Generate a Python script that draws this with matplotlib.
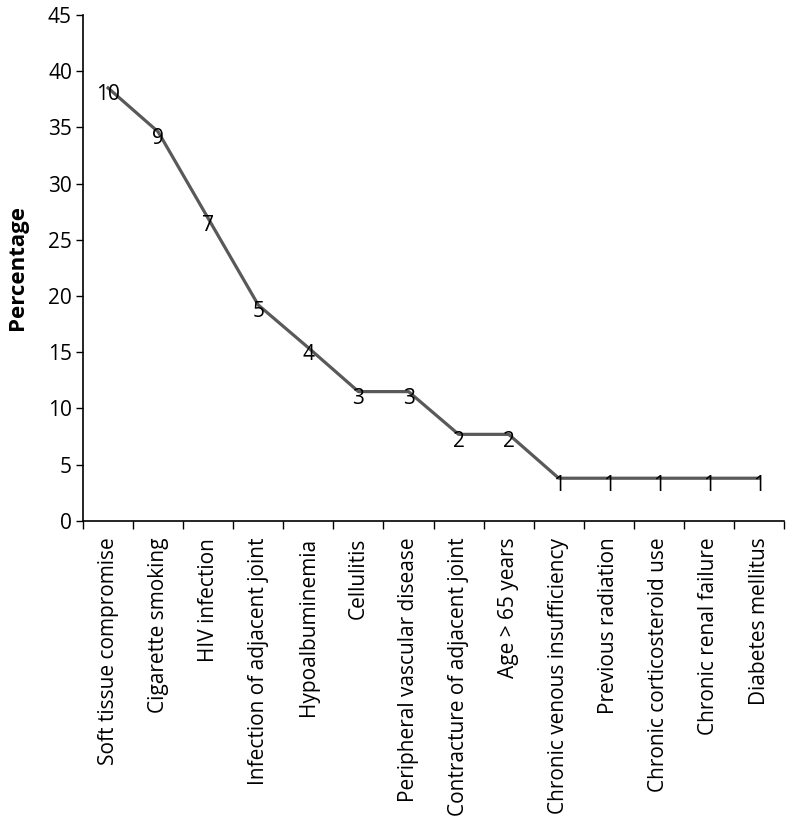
import matplotlib
matplotlib.use("Agg")
import matplotlib.pyplot as plt

plt.rcParams["font.family"] = ["Open Sans", "DejaVu Sans"]

categories = [
    "Soft tissue compromise",
    "Cigarette smoking",
    "HIV infection",
    "Infection of adjacent joint",
    "Hypoalbuminemia",
    "Cellulitis",
    "Peripheral vascular disease",
    "Contracture of adjacent joint",
    "Age > 65 years",
    "Chronic venous insufficiency",
    "Previous radiation",
    "Chronic corticosteroid use",
    "Chronic renal failure",
    "Diabetes mellitus",
]
counts = [10, 9, 7, 5, 4, 3, 3, 2, 2, 1, 1, 1, 1, 1]
percentages = [38.5, 34.6, 26.9, 19.2, 15.4, 11.5, 11.5, 7.7, 7.7, 3.8, 3.8, 3.8, 3.8, 3.8]

fig = plt.figure(figsize=(7.86, 8.23), dpi=100)
ax = fig.add_axes([0.1056, 0.367, 0.892, 0.615])

x = list(range(len(categories)))
ax.plot(x, percentages, color="#595959", linewidth=2.3, solid_joinstyle="round")

# count labels sit just under each point
for xi, yi, c in zip(x, percentages, counts):
    ax.annotate(str(c), (xi, yi), xytext=(0, -5), textcoords="offset points",
                ha="center", va="center", fontsize=15, color="black")

ax.set_xlim(-0.5, len(categories) - 0.5)
ax.set_ylim(0, 45)
ax.set_yticks(range(0, 46, 5))
ax.tick_params(axis="y", labelsize=15, length=5, width=1, direction="out", pad=3)

ax.set_xticks(x)
ax.set_xticklabels(categories, rotation=90, fontsize=15)
ax.set_xticks([i - 0.5 for i in range(len(categories) + 1)], minor=True)
ax.tick_params(axis="x", which="major", length=0, pad=12)
ax.tick_params(axis="x", which="minor", length=6, width=1, direction="out")

for side in ("top", "right"):
    ax.spines[side].set_visible(False)
for side in ("left", "bottom"):
    ax.spines[side].set_linewidth(1.2)
    ax.spines[side].set_color("black")

ax.set_ylabel("Percentage", fontsize=16, fontweight="bold", labelpad=14)

fig.savefig("out.png", dpi=100)
